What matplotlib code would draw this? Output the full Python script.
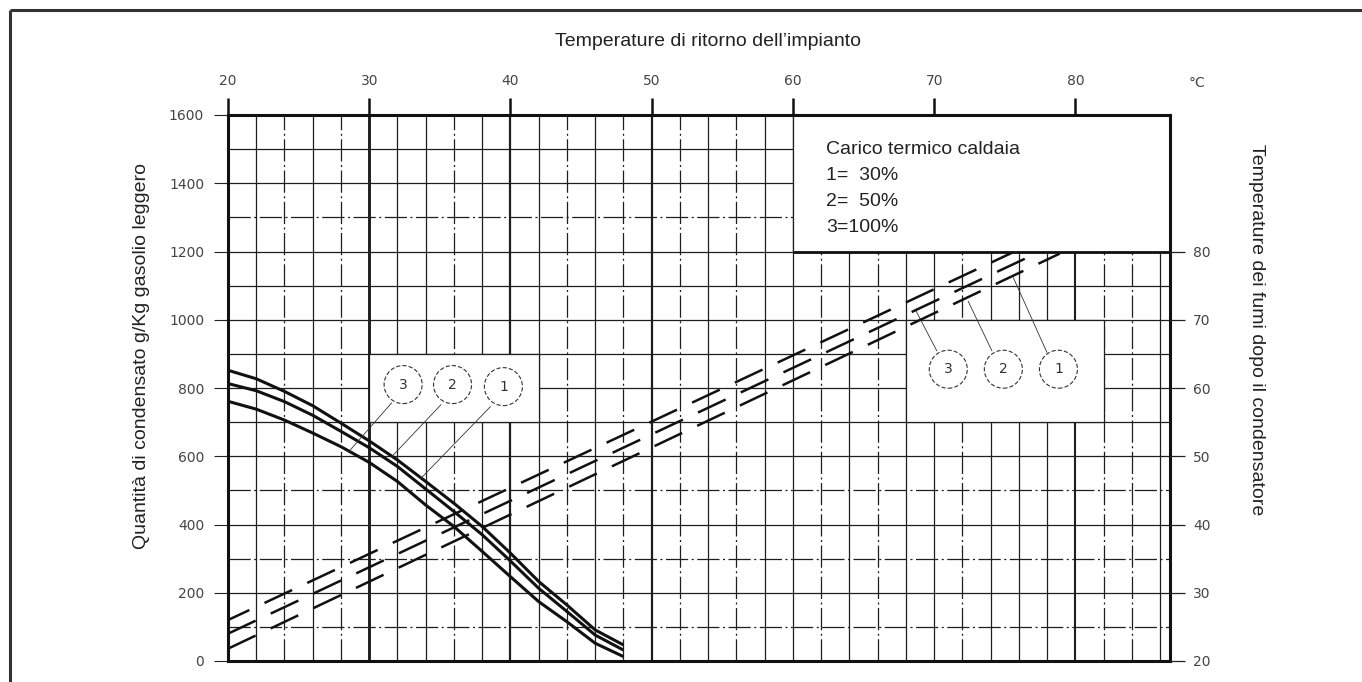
import matplotlib
matplotlib.use('Agg')
import matplotlib.pyplot as plt
from matplotlib.patches import Rectangle, Ellipse
from matplotlib.lines import Line2D

plt.rcParams['font.family'] = ['Liberation Sans', 'DejaVu Sans']
plt.rcParams['lines.solid_capstyle'] = 'butt'
plt.rcParams['lines.dash_capstyle'] = 'butt'
plt.rcParams['lines.scale_dashes'] = False

# ---------------- data ----------------
t_return = [20, 22, 24, 26, 28, 30, 32, 34, 36, 38, 40, 42, 44, 46, 48]
cond_1 = [852, 827, 790, 748, 697, 645, 589, 526, 462, 394, 316, 233, 164, 91, 47]   # 1 = 30 %
cond_2 = [813, 792, 760, 720, 673, 625, 570, 504, 438, 370, 293, 213, 145, 76, 32]   # 2 = 50 %
cond_3 = [761, 738, 706, 668, 628, 582, 526, 457, 394, 321, 247, 174, 115, 52, 13]   # 3 = 100 %

fumi_t_1 = [20, 78.9]
fumi_1 = [21.8, 79.7]
fumi_t_2 = [20, 77.0]
fumi_2 = [24.0, 79.5]
fumi_t_3 = [20, 75.6]
fumi_3 = [26.0, 79.9]

x_ticks = [20, 30, 40, 50, 60, 70, 80]
q_ticks = [0, 200, 400, 600, 800, 1000, 1200, 1400, 1600]
r_ticks = [20, 30, 40, 50, 60, 70, 80]

grid_x = list(range(22, 87, 2))
grid_q = list(range(100, 1600, 100))
dashdot_x = [24, 28, 36, 44, 48, 52, 56, 62, 66, 72, 82, 84]
dashdot_q = [100, 300, 500, 1300]
thick_x = {30: 2.1, 40: 1.6, 50: 1.6, 80: 1.5}

title_txt = "Temperature di ritorno dell\u2019impianto"
ylabel_txt = "Quantit\u00e0 di condensato g/Kg gasolio leggero"
y2label_txt = "Temperature dei fumi dopo il condensatore"
unit_txt = "\u00b0C"
legend_lines = ["Carico termico caldaia", "1=  30%", "2=  50%", "3=100%"]

circ_left_t = [32.4, 35.9, 39.5]
circ_left_q = [810, 810, 804]
circ_right_t = [71.0, 74.9, 78.8]
circ_right_q = [855, 855, 855]
circ_labels = ["3", "2", "1"]

lead_left = [((31.6, 757), (28.5, 611)), ((35.1, 752), (31.6, 599)), ((38.6, 746), (33.7, 537))]
lead_right = [((70.2, 908), (68.65, 1031)), ((74.1, 908), (72.4, 1055)), ((78.0, 903), (75.6, 1124))]

box_left = (30, 700, 42, 900)
box_right = (68, 700, 82, 1000)
XMAX = 86.7
box_legend = (60, 1200, XMAX, 1600)

# ---------------- figure ----------------
W, H = 1362, 682
fig = plt.figure(figsize=(W / 100, H / 100), dpi=100)
fig.patch.set_facecolor('white')

def fx(px):
    return px / W

def fy(py):
    return 1 - py / H

ax_l, ax_r, ax_t, ax_b = 228, 1170, 115, 661
ax = fig.add_axes([fx(ax_l), fy(ax_b), (ax_r - ax_l) / W, (ax_b - ax_t) / H])
ax.set_xlim(20, XMAX)
ax.set_ylim(0, 1600)

GC = '#1e1e1e'
DD = (0, (16, 2.5, 1.5, 2.5))
for v in grid_x:
    lw = thick_x.get(v, 0.9)
    ls = DD if v in dashdot_x else '-'
    ax.axvline(v, color=GC, lw=lw, ls=ls, zorder=1)
for v in grid_q:
    ls = DD if v in dashdot_q else '-'
    ax.axhline(v, color=GC, lw=0.9, ls=ls, zorder=1)

# white boxes
for (x0, y0, x1, y1) in (box_left, box_right, box_legend):
    ax.add_patch(Rectangle((x0, y0), x1 - x0, y1 - y0, facecolor='white',
                           edgecolor=GC, lw=0.9, zorder=2))
ax.hlines(box_legend[1], box_legend[0], box_legend[2], color='#111', lw=2.0, zorder=3)

# solid condensate curves
for c in (cond_1, cond_2, cond_3):
    ax.plot(t_return, c, color='#111', lw=2.2, zorder=4, solid_joinstyle='round')

# circles and leaders
ew = 38 / ((ax_r - ax_l) / (XMAX - 20))
eh = 38 / ((ax_b - ax_t) / 1600)
for ts, qs in ((circ_left_t, circ_left_q), (circ_right_t, circ_right_q)):
    for t, q, lab in zip(ts, qs, circ_labels):
        ax.add_patch(Ellipse((t, q), ew, eh, facecolor='white', edgecolor='#333',
                             lw=0.8, ls=(0, (3, 1.5)), zorder=5))
        ax.text(t, q, lab, ha='center', va='center', fontsize=10,
                family='DejaVu Sans', color='#333', zorder=6)
for (a, b) in lead_left + lead_right:
    ax.plot([a[0], b[0]], [a[1], b[1]], color='#333', lw=0.6, zorder=4)

# axes styling
for s in ax.spines.values():
    s.set_linewidth(2.2)
    s.set_color('#111')
ax.xaxis.tick_top()
ax.set_xticks(x_ticks)
ax.set_xticklabels([str(v) for v in x_ticks])
ax.set_yticks(q_ticks)
ax.set_yticklabels([str(v) for v in q_ticks])
ax.tick_params(axis='x', which='both', top=True, bottom=False, labeltop=True,
               labelbottom=False, length=12.2, width=1.8, pad=7, direction='out',
               color='#111', labelsize=10, labelcolor='#444')
ax.tick_params(axis='y', left=True, length=10, width=0.8, pad=7.2, direction='out',
               color='#222', labelsize=10, labelcolor='#444')
for lab in ax.get_xticklabels() + ax.get_yticklabels():
    lab.set_family('DejaVu Sans')

# right axis (flue gas temperature)
ax2 = ax.twinx()
ax2.set_ylim(20, 100)
ax2.set_xlim(20, XMAX)
for s in ax2.spines.values():
    s.set_visible(False)
ax2.set_yticks(r_ticks)
ax2.set_yticklabels([str(v) for v in r_ticks])
ax2.tick_params(axis='y', right=True, length=10.8, width=0.9, pad=5.8, direction='out',
                color='#222', labelsize=10, labelcolor='#444')
for lab in ax2.get_yticklabels():
    lab.set_family('DejaVu Sans')

for tt, ff, off in ((fumi_t_1, fumi_1, 0), (fumi_t_2, fumi_2, 0), (fumi_t_3, fumi_3, 5)):
    ax2.plot(tt, ff, color='#111', lw=1.8, ls=(off, (22, 12)), zorder=4)

# texts
fig.text(fx(708), fy(42), title_txt, ha='center', va='center', fontsize=14, color='#222')
fig.text(fx(1197), fy(83), unit_txt, ha='center', va='center', fontsize=10,
         family='DejaVu Sans', color='#444')
fig.text(fx(141), fy(356), ylabel_txt, ha='center', va='center', rotation=90,
         fontsize=14, color='#222')
fig.text(fx(1256), fy(330), y2label_txt, ha='center', va='center', rotation=270,
         fontsize=14, color='#222')
for i, line in enumerate(legend_lines):
    fig.text(fx(826), fy(154 + 26 * i), line, ha='left', va='baseline', fontsize=14,
             color='#222')

# outer frame
frame_c = '#333'
fig.add_artist(Line2D([fx(10), fx(10)], [fy(10), fy(682)], color=frame_c, lw=2.2))
fig.add_artist(Line2D([fx(10), fx(1362)], [fy(10), fy(10)], color=frame_c, lw=2.2))

fig.savefig('out.png', dpi=100, facecolor='white')
